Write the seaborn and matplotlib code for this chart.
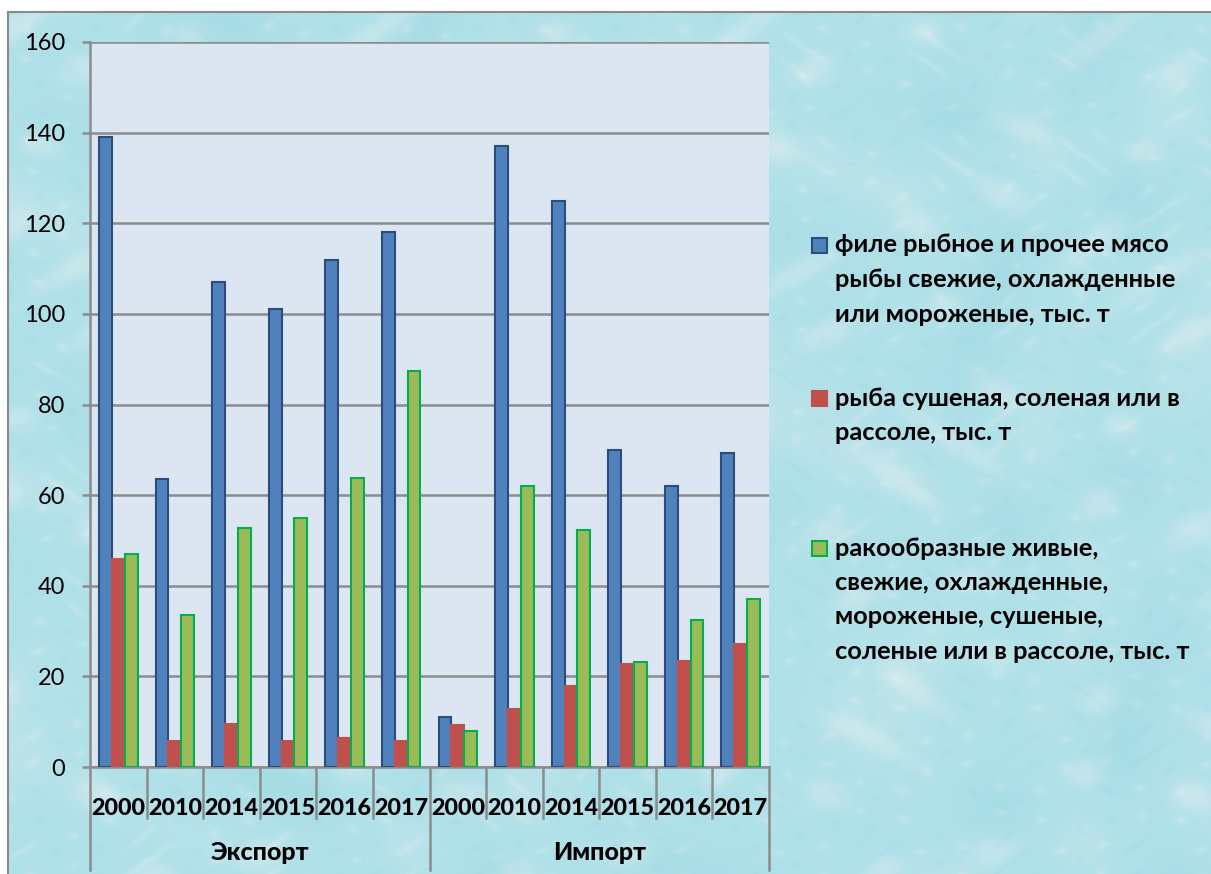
import numpy as np
import pandas as pd
import seaborn as sns
import matplotlib.pyplot as plt
from matplotlib.patches import Rectangle
from matplotlib.lines import Line2D

# ---- data -------------------------------------------------------------
years = ["2000", "2010", "2014", "2015", "2016", "2017"]
groups = ["Экспорт", "Импорт"]

fillet = [139, 63.5, 107, 101, 112, 118, 11, 137, 125, 70, 62, 69.3]
dried = [45.8, 5.8, 9.6, 5.8, 6.5, 5.8, 9.3, 12.9, 17.8, 22.7, 23.4, 27.2]
crustaceans = [47, 33.6, 52.8, 55, 63.8, 87.4, 8, 62, 52.2, 23.2, 32.4, 37]

series_labels = [
    ["филе рыбное и прочее мясо", "рыбы свежие, охлажденные", "или мороженые, тыс. т"],
    ["рыба сушеная, соленая или в", "рассоле, тыс. т"],
    ["ракообразные живые,", "свежие, охлажденные,", "мороженые, сушеные,",
     "соленые или в рассоле, тыс. т"],
]
series_keys = ["fillet", "dried", "crustaceans"]
fills = ["#4f81bd", "#c0504d", "#9bbb59"]
edges = ["#2c4d7a", "#c0504d", "#00b050"]

positions = [f"{g} {y}" for g in groups for y in years]
df = pd.DataFrame({
    "pos": positions * 3,
    "series": np.repeat(series_keys, len(positions)),
    "value": fillet + dried + crustaceans,
})

# ---- figure & textured backdrop --------------------------------------
W, H = 1211, 874
fig = plt.figure(figsize=(W / 100, H / 100), dpi=100, facecolor="white")

yy, xx = np.mgrid[0:H, 0:W].astype(float)
ripple = np.sin(xx / 29 + 1.9 * np.sin(yy / 47)) * np.sin(yy / 21 + 1.5 * np.sin(xx / 59))
drops = np.sin(xx / 11 + 2.3 * np.sin(yy / 17)) * np.sin(yy / 9 + 1.7 * np.sin(xx / 23))
swell = np.sin((xx + yy) / 83 + 2 * np.cos(xx / 97)) * np.cos((xx - yy) / 71 + np.sin(yy / 53))
light = (np.clip(ripple, 0, 1) ** 3 * 0.30 + np.clip(drops, 0, 1) ** 6 * 0.22
         + np.clip(swell, 0, 1) ** 2 * 0.16)
light = np.clip(light, 0, 0.8)
dark = np.clip(-swell, 0, 1) ** 2 * 0.10 + np.clip(-drops, 0, 1) ** 8 * 0.08
base = np.array([0.69, 0.88, 0.91])
img = base[None, None, :] * (1 - light[..., None]) + light[..., None] * 0.95
img = img - dark[..., None] * np.array([0.30, 0.14, 0.10])
img[:12, :, :] = 1.0
img[:, :8, :] = 1.0
img = np.clip(img, 0, 1)
fig.figimage(img, 0, 0, origin="upper", zorder=0)
fig.add_artist(Line2D([8 / W, 8 / W], [0, 1 - 12 / H], color="#8a8a8a", lw=1.5))
fig.add_artist(Line2D([8 / W, 1], [1 - 12 / H, 1 - 12 / H], color="#8a8a8a", lw=1.5))

# ---- plot area --------------------------------------------------------
ax = fig.add_axes([90 / W, 1 - 767 / H, (769 - 90) / W, (767 - 42) / H])
ax.set_zorder(2)
ax.set_facecolor("#dce6f2")

sns.barplot(data=df, x="pos", y="value", hue="series", order=positions,
            hue_order=series_keys, palette=fills, width=0.68, gap=0,
            saturation=1, legend=False, ax=ax, zorder=3)
for cont, ec in zip(ax.containers, edges):
    for bar in cont:
        bar.set_edgecolor(ec)
        bar.set_linewidth(1.5)

ax.set_ylim(0, 160)
ax.set_xlim(-0.5, len(positions) - 0.5)
ax.set_yticks(range(0, 161, 20))
ax.grid(axis="y", color="#8c8c8c", lw=1.8, zorder=1)
ax.set_axisbelow(True)
for side in ("top", "right"):
    ax.spines[side].set_visible(False)
ax.spines["left"].set_color("#8c8c8c")
ax.spines["left"].set_linewidth(1.8)
ax.spines["bottom"].set_color("#8c8c8c")
ax.spines["bottom"].set_linewidth(1.8)
ax.tick_params(axis="y", length=6, width=1.8, color="#8c8c8c", pad=12,
               labelsize=17, labelcolor="black")
for lab in ax.get_yticklabels():
    lab.set_family("Lato")
ax.set_xlabel("")
ax.set_ylabel("")

# year labels and category separators below the axis
ax.set_xticks(range(len(positions)))
ax.set_xticklabels(years * 2, fontsize=16.8, fontweight=900, family="Lato")
ax.tick_params(axis="x", length=0, pad=22)
xt = ax.get_xaxis_transform()
for i in range(len(positions) + 1):
    edge = i - 0.5
    depth = -0.142 if i % len(years) == 0 else -0.071
    ax.plot([edge, edge], [0, depth], transform=xt, color="#8c8c8c",
            lw=1.8, clip_on=False, zorder=5)
for gi, g in enumerate(groups):
    ax.text(gi * len(years) + (len(years) - 1) / 2, -0.1186, g, transform=xt,
            ha="center", va="center", fontsize=18, fontweight=900, family="Lato")

# ---- legend -----------------------------------------------------------
legend_tops = [245, 398, 548]
line_gap = 34.5
for lines, fc, ec, top in zip(series_labels, fills, edges, legend_tops):
    fig.add_artist(Rectangle((812 / W, 1 - (top + 8) / H), 15 / W, 15 / H,
                             facecolor=fc, edgecolor=ec, lw=1.5))
    for k, line in enumerate(lines):
        fig.text(835 / W, 1 - (top + k * line_gap) / H, line, ha="left",
                 va="center", fontsize=18.3, fontweight="bold", family="Lato")

fig.savefig("out.png", dpi=100, facecolor="white")
